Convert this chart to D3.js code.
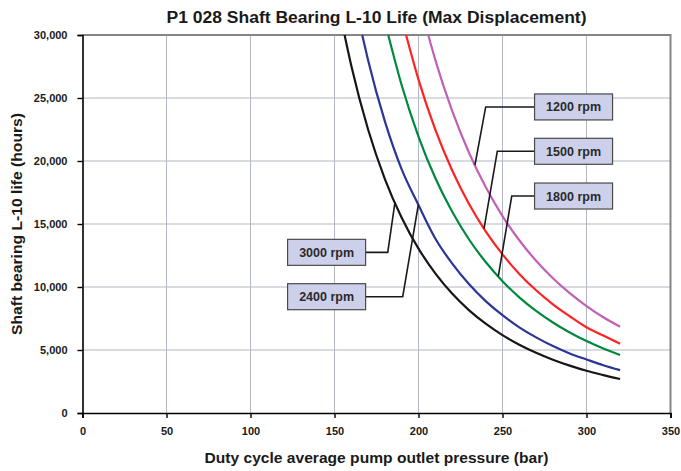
<!DOCTYPE html>
<html>
<head>
<meta charset="utf-8">
<script src="https://cdn.jsdelivr.net/npm/d3@7/dist/d3.min.js"></script>
<style>
  html, body { margin: 0; padding: 0; background: #ffffff; }
  svg { display: block; font-family: "Liberation Sans", Arial, Helvetica, sans-serif; }
</style>
</head>
<body>
<svg id="chart" width="681" height="471"></svg>
<script>
// Chart text
const chartTitle = "P1 028 Shaft Bearing L-10 Life (Max Displacement)";
const xTitle = "Duty cycle average pump outlet pressure (bar)";
const yTitle = "Shaft bearing L-10 life (hours)";

// Axis ticks
const xTicks = [0, 50, 100, 150, 200, 250, 300, 350];
const yTicks = [0, 5000, 10000, 15000, 20000, 25000, 30000];

// Series: shaft speed, pressure (bar) and L-10 life (hours)
const speeds = ["1200 rpm", "1500 rpm", "1800 rpm", "2400 rpm", "3000 rpm"];
const colors = ["#c060b6", "#ff2222", "#00893e", "#2b3596", "#161616"];

const pressure1200 = [205.8, 210, 220, 230, 240, 250, 260, 270, 280, 290, 300, 310, 320];
const life1200     = [30000, 28030, 23990, 20670, 17930, 15630, 13710, 12080, 10690, 9510, 8490, 7600, 6850];

const pressure1500 = [192.6, 200, 210, 220, 230, 240, 250, 260, 270, 280, 290, 300, 310, 320];
const life1500     = [30000, 26460, 22490, 19270, 16610, 14420, 12590, 11040, 9740, 8630, 7680, 6800, 6150, 5500];

const pressure1800 = [182, 190, 200, 210, 220, 230, 240, 250, 260, 270, 280, 290, 300, 310, 320];
const life1800     = [30000, 26010, 21940, 18650, 15990, 13790, 11980, 10460, 9180, 8100, 7180, 6390, 5710, 5120, 4600];

const pressure2400 = [166.5, 170, 180, 190, 200, 210, 220, 230, 240, 250, 260, 270, 280, 290, 300, 310, 320];
const life2400     = [30000, 28000, 23140, 19330, 16500, 13850, 11870, 10230, 8880, 7760, 6800, 6000, 5310, 4730, 4250, 3790, 3400];

const pressure3000 = [156, 160, 170, 180, 190, 200, 210, 220, 230, 240, 250, 260, 270, 280, 290, 300, 310, 320];
const life3000     = [30000, 27560, 22500, 18570, 15500, 13050, 11080, 9480, 8170, 7090, 6180, 5420, 4780, 4230, 3760, 3350, 3010, 2700];

const pressures = [pressure1200, pressure1500, pressure1800, pressure2400, pressure3000];
const lives = [life1200, life1500, life1800, life2400, life3000];

// Callout labels: point on curve (pressure), elbow pressure, box centre (pressure, life)
const calloutTip   = [233.6, 239.0, 247.5, 199.9, 186.0];
const calloutElbow = [240.0, 246.9, 255.5, 190.6, 181.7];
const calloutBoxP  = [292.3, 292.3, 292.3, 145.3, 145.3];
const calloutBoxL  = [24290, 20770, 17220, 9230, 12750];

const svg = d3.select("#chart");
const plotLeft = 82.5, plotRight = 670.5, plotTop = 35, plotBottom = 413;

const x = d3.scaleLinear().domain([0, 350]).range([plotLeft, plotRight]);
const y = d3.scaleLinear().domain([0, 30000]).range([plotBottom, plotTop]);

// Gridlines
const grid = svg.append("g").attr("stroke", "#b3b7c3").attr("stroke-width", 1);
grid.selectAll(".gx").data(xTicks.filter(d => d > 0 && d < 350)).join("line")
  .attr("x1", d => x(d)).attr("x2", d => x(d)).attr("y1", plotTop).attr("y2", plotBottom);
grid.selectAll(".gy").data(yTicks.filter(d => d > 0 && d < 30000)).join("line")
  .attr("x1", plotLeft).attr("x2", plotRight).attr("y1", d => y(d)).attr("y2", d => y(d));

// Plot frame (top and right)
svg.append("path")
  .attr("d", `M${plotLeft},${plotTop}H${plotRight}V${plotBottom}`)
  .attr("fill", "none").attr("stroke", "#858585").attr("stroke-width", 2);

// Curves
const line = d3.line().x(d => x(d[0])).y(d => y(d[1])).curve(d3.curveMonotoneX);
speeds.forEach((s, i) => {
  const pts = pressures[i].map((p, j) => [p, lives[i][j]]);
  svg.append("path").datum(pts)
    .attr("d", line)
    .attr("fill", "none")
    .attr("stroke", colors[i])
    .attr("stroke-width", 2.2)
    .attr("stroke-linejoin", "round");
});

// Life on a curve at a given pressure
function lifeAt(i, p) {
  const ps = pressures[i], ls = lives[i];
  const k = Math.max(1, Math.min(ps.length - 1, d3.bisectLeft(ps, p)));
  const t = (p - ps[k - 1]) / (ps[k] - ps[k - 1]);
  return ls[k - 1] + t * (ls[k] - ls[k - 1]);
}

// Callouts
const boxW = 78, boxH = 26;
speeds.forEach((s, i) => {
  const bx = x(calloutBoxP[i]), by = y(calloutBoxL[i]);
  const edge = calloutBoxP[i] > calloutTip[i] ? bx - boxW / 2 : bx + boxW / 2;
  svg.append("path")
    .attr("d", `M${edge},${by}H${x(calloutElbow[i])}L${x(calloutTip[i])},${y(lifeAt(i, calloutTip[i]))}`)
    .attr("fill", "none").attr("stroke", "#1a1a1a").attr("stroke-width", 1.6);
  svg.append("rect")
    .attr("x", bx - boxW / 2).attr("y", by - boxH / 2)
    .attr("width", boxW).attr("height", boxH)
    .attr("fill", "#cdd0ea").attr("stroke", "#4a4a4a").attr("stroke-width", 1.2);
  svg.append("text")
    .attr("x", bx).attr("y", by + 4.5)
    .attr("text-anchor", "middle")
    .attr("font-size", 12.5).attr("font-weight", "bold").attr("fill", "#2a2a2a")
    .text(s);
});

// Axes
const xAxis = svg.append("g").attr("transform", `translate(0,${plotBottom})`)
  .call(d3.axisBottom(x).tickValues(xTicks).tickSize(5).tickPadding(9).tickFormat(d3.format("d")));
const yAxis = svg.append("g").attr("transform", `translate(${plotLeft},0)`)
  .call(d3.axisLeft(y).tickValues(yTicks).tickSize(5).tickPadding(10).tickFormat(d3.format(",")));
[xAxis, yAxis].forEach(a => {
  a.select(".domain").attr("stroke", "#000").attr("stroke-width", 1.6);
  a.selectAll(".tick line").attr("stroke", "#000").attr("stroke-width", 1.4);
  a.selectAll(".tick text")
    .attr("font-family", "'Liberation Sans', Arial, sans-serif")
    .attr("font-size", 11).attr("font-weight", "bold").attr("fill", "#1a1a1a");
});

// Titles
svg.append("text")
  .attr("x", (plotLeft + plotRight) / 2).attr("y", 23)
  .attr("text-anchor", "middle")
  .attr("font-size", 16).attr("font-weight", "bold").attr("fill", "#1a1a1a")
  .attr("textLength", 420).attr("lengthAdjust", "spacingAndGlyphs")
  .text(chartTitle);

svg.append("text")
  .attr("x", (plotLeft + plotRight) / 2).attr("y", 463)
  .attr("text-anchor", "middle")
  .attr("font-size", 15).attr("font-weight", "bold").attr("fill", "#1a1a1a")
  .attr("textLength", 344).attr("lengthAdjust", "spacingAndGlyphs")
  .text(xTitle);

svg.append("text")
  .attr("transform", `translate(22,${(plotTop + plotBottom) / 2}) rotate(-90)`)
  .attr("text-anchor", "middle")
  .attr("font-size", 15).attr("font-weight", "bold").attr("fill", "#1a1a1a")
  .attr("textLength", 222).attr("lengthAdjust", "spacingAndGlyphs")
  .text(yTitle);
</script>
</body>
</html>
